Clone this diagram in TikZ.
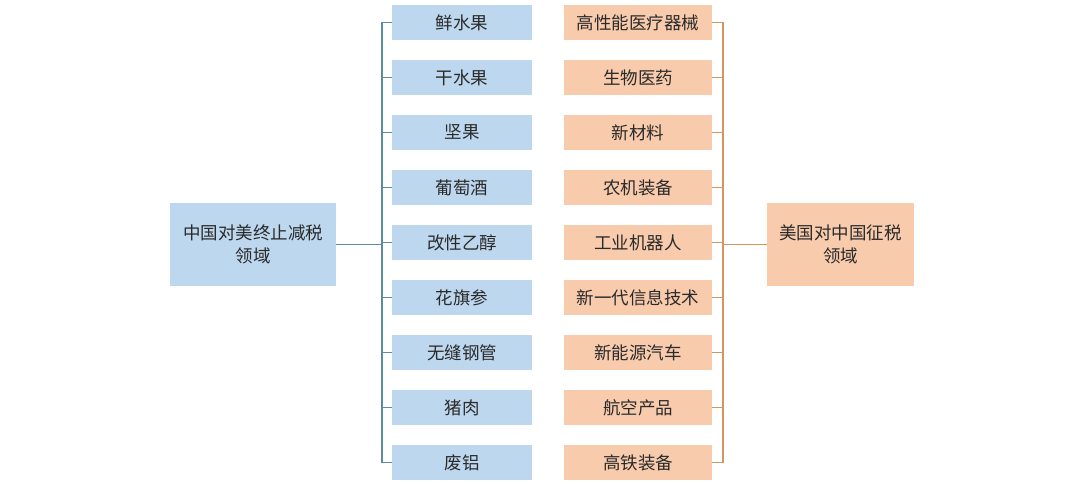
\documentclass[tikz,border=0pt]{standalone}
\usepackage{fontspec}
\setmainfont{Noto Sans CJK SC}
\definecolor{bluefill}{HTML}{BDD7EE}
\definecolor{orangefill}{HTML}{F8CBAD}
\definecolor{blueline}{HTML}{5B8CA3}
\definecolor{orangeline}{HTML}{D4955F}
\definecolor{txt}{HTML}{2A2A2A}
\begin{document}
\begin{tikzpicture}[x=1pt,y=-1pt,
  box/.style={minimum width=#1, minimum height=35pt, inner sep=0pt, text=txt, font=\fontsize{17.5}{20}\selectfont},
  bbox/.style={box=140pt, fill=bluefill},
  obox/.style={box=148pt, fill=orangefill},
  big/.style={inner sep=0pt, text=txt, font=\fontsize{17.5}{23}\selectfont, align=center, minimum height=83pt},
  bl/.style={draw=blueline, line width=1.3pt},
  ol/.style={draw=orangeline, line width=1.3pt}]
\useasboundingbox (0,0) rectangle (1080,484);
\node[big, fill=bluefill, minimum width=166pt] (L) at (253,244.5) {中国对美终止减税\\领域};
\node[big, fill=orangefill, minimum width=147pt] (R) at (840.5,244.5) {美国对中国征税\\领域};
\foreach \t [count=\i] in {鲜水果,干水果,坚果,葡萄酒,改性乙醇,花旗参,无缝钢管,猪肉,废铝} {
  \node[bbox] (b\i) at (462,{22.5+(\i-1)*55}) {\t};
  \coordinate (bj\i) at (382,{22.5+(\i-1)*55});
  \draw[bl] (bj\i) -- (b\i.west);
}
\foreach \t [count=\i] in {高性能医疗器械,生物医药,新材料,农机装备,工业机器人,新一代信息技术,新能源汽车,航空产品,高铁装备} {
  \node[obox] (o\i) at (638,{22.5+(\i-1)*55}) {\t};
  \coordinate (oj\i) at (723,{22.5+(\i-1)*55});
  \draw[ol] (o\i.east) -- (oj\i);
}
\draw[bl] (bj1) -- (bj9);
\draw[ol] (oj1) -- (oj9);
\draw[bl] (L.east) -- (L.east -| bj1);
\draw[ol] (R.west) -- (R.west -| oj1);
\end{tikzpicture}
\end{document}
